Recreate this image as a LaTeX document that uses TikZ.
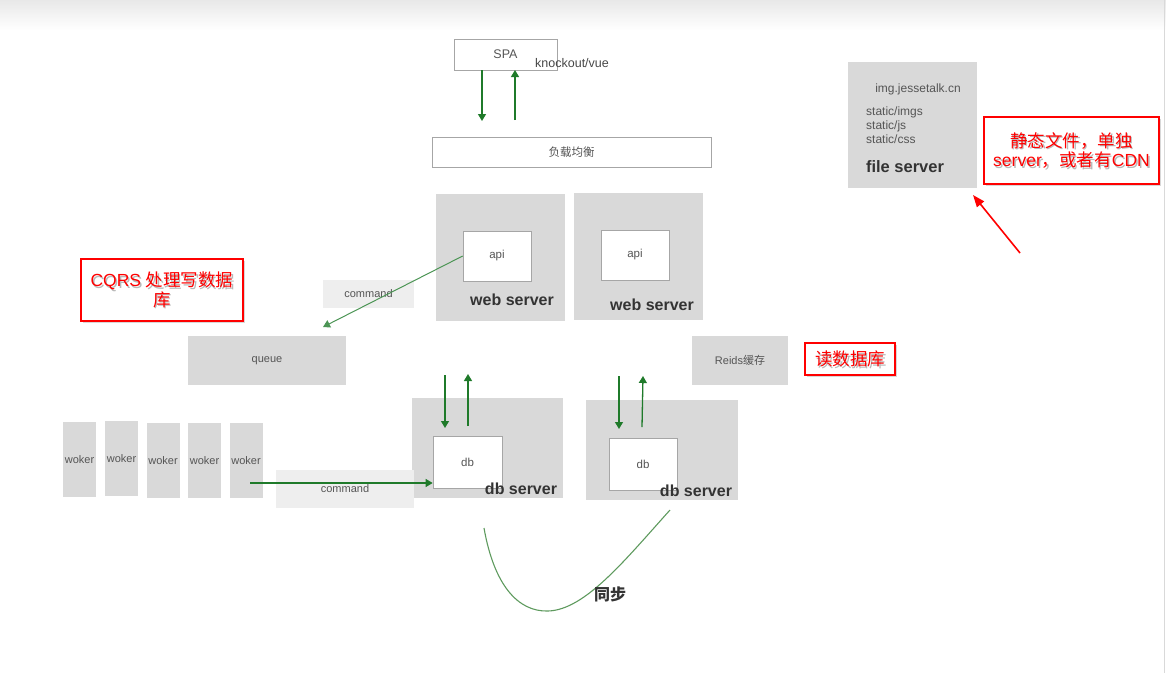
\documentclass[tikz,border=0pt]{standalone}
\usepackage{fontspec}
\setmainfont{Liberation Sans}
\newfontfamily\cjk{Noto Sans CJK SC}
\newcommand\cj[1]{{\cjk #1}}
\usetikzlibrary{arrows.meta,shadows}
\definecolor{boxgray}{HTML}{D9D9D9}
\definecolor{lightgray2}{HTML}{EEEEEE}
\definecolor{txtgray}{HTML}{555555}
\definecolor{darktxt}{HTML}{333333}
\definecolor{arrgreen}{HTML}{1F7A2A}
\definecolor{curvegreen}{HTML}{5E9A5E}
\definecolor{annred}{HTML}{FF0000}
\begin{document}
\begin{tikzpicture}[x=1pt,y=-1pt,
  gbox/.style={fill=boxgray,draw=none,inner sep=0pt},
  wbox/.style={fill=white,draw=gray!70,line width=0.7pt,inner sep=0pt,text=txtgray,font=\fontsize{11.5}{13}\selectfont},
  lbox/.style={fill=lightgray2,draw=none,inner sep=0pt,text=txtgray,font=\fontsize{11}{13}\selectfont},
  small/.style={text=txtgray,font=\fontsize{11}{13}\selectfont,inner sep=0pt},
  big/.style={text=darktxt,font=\fontsize{16}{18}\selectfont\bfseries,inner sep=0pt},
  garrow/.style={draw=arrgreen,line width=1.3pt,-{Triangle[length=7pt,width=8pt]}},
  annbox/.style={draw=annred,line width=1.8pt,fill=white,drop shadow={shadow xshift=2pt,shadow yshift=-2pt,fill=gray!60}},
  anntext/.style={text=annred,font=\fontsize{17.5}{19.5}\selectfont,align=center,inner sep=0pt},
  annshadow/.style={text=gray!55,font=\fontsize{17.5}{19.5}\selectfont,align=center,inner sep=0pt}
]
\useasboundingbox (0,0) rectangle (1166,673);
\shade[top color=gray!18,bottom color=white] (0,0) rectangle (1166,30);
\draw[gray!30,line width=1pt] (1164,0) -- (1164,673);

% SPA and load balancer
\node[wbox,minimum width=103,minimum height=31,font=\fontsize{12.5}{14}\selectfont] (spa) at (505.5,54.5) {SPA};
\node[small,anchor=west,text=darktxt!90,font=\fontsize{12.5}{14}\selectfont] (ko) at (535,63.5) {knockout/vue};
\node[wbox,minimum width=279,minimum height=30] (lb) at (571.5,152) {\cj{负载均衡}};
\coordinate (d1s) at (482,70); \coordinate (d1e) at (482,121);
\coordinate (u1s) at (515,120); \coordinate (u1e) at (515,70);
\draw[garrow] (d1s) -- (d1e);
\draw[garrow] (u1s) -- (u1e);

% web servers
\node[gbox,minimum width=129,minimum height=127] (web1) at (500,257.5) {};
\node[wbox,minimum width=68,minimum height=50] (api1) at (497,256) {api};
\node[big] (wl1) at (512,300) {web server};
\node[gbox,minimum width=129,minimum height=127] (web2) at (638,256.5) {};
\node[wbox,minimum width=68,minimum height=50] (api2) at (635,255) {api};
\node[big] (wl2) at (652,305) {web server};

% command & queue
\node[lbox,minimum width=91,minimum height=28] (cmd1) at (368.5,294) {command};
\node[gbox,minimum width=158,minimum height=49,text=txtgray,font=\fontsize{11}{13}\selectfont] (queue) at (267,360.5) {queue};
\coordinate (qin) at (323,327);
\draw[garrow,line width=1pt,draw=arrgreen!80] (api1.west) -- (qin);

% CQRS annotation
\node[annbox,minimum width=162,minimum height=62] (cqrs) at (162,290) {};
\node[annshadow] at (163.5,291.5) {CQRS \cj{处理写数据}\\\cj{库}};
\node[anntext] (cqrst) at (162,290) {CQRS \cj{处理写数据}\\\cj{库}};

% Redis & read annotation
\node[gbox,minimum width=96,minimum height=49,text=txtgray,font=\fontsize{11}{13}\selectfont] (redis) at (740,360.5) {Reids\cj{缓存}};
\node[annbox,minimum width=90,minimum height=32] (read) at (850,359) {};
\node[annshadow] at (851.5,360.5) {\cj{读数据库}};
\node[anntext] (readt) at (850,359) {\cj{读数据库}};

% db servers
\node[gbox,minimum width=151,minimum height=100] (db1) at (487.5,448) {};
\node[wbox,minimum width=69,minimum height=52] (dbi1) at (467.5,462) {db};
\node[big] (dl1) at (521,489) {db server};
\node[gbox,minimum width=152,minimum height=100] (db2) at (662,450) {};
\node[wbox,minimum width=68,minimum height=52] (dbi2) at (643,464) {db};
\node[big] (dl2) at (696,491) {db server};
\coordinate (d2s) at (445,375); \coordinate (d2e) at (445,428);
\coordinate (u2s) at (468,426); \coordinate (u2e) at (468,374);
\coordinate (d3s) at (619,376); \coordinate (d3e) at (619,429);
\coordinate (u3s) at (642,427); \coordinate (u3e) at (643,376);
\draw[garrow] (d2s) -- (d2e);
\draw[garrow] (u2s) -- (u2e);
\draw[garrow] (d3s) -- (d3e);
\draw[garrow] (u3s) -- (u3e);

% workers
\foreach \i/\x/\y in {1/79.5/459.5,2/121.5/458.5,3/163/460.5,4/204.5/460.5,5/246/460.5}{
  \node[gbox,minimum width=33,minimum height=75,text=txtgray,font=\fontsize{11}{13}\selectfont] (w\i) at (\x,\y) {woker};
}
\node[lbox,minimum width=138,minimum height=38] (cmd2) at (345,489) {command};
\coordinate (wcs) at (250,483);
\draw[garrow] (wcs) -- (dbi1.west |- wcs);

% sync curve
\coordinate (s1) at (484,528);
\coordinate (s2) at (670,510);
\draw[curvegreen,line width=1.1pt] (s1) .. controls (494,585) and (518,612) .. (548,611) .. controls (585,610) and (625,560) .. (s2);
\node[text=darktxt,font=\fontsize{16}{18}\selectfont\cjk\bfseries,inner sep=0pt] (sync) at (610,594) {同步};

% file server
\node[gbox,minimum width=129,minimum height=126] (fs) at (912.5,125) {};
\node[small,font=\fontsize{12}{14}\selectfont] (host) at (918,89) {img.jessetalk.cn};
\node[small,font=\fontsize{12}{14}\selectfont,anchor=north west,align=left] (paths) at (866,107) {static/imgs\\static/js\\static/css};
\node[big,font=\fontsize{16.5}{18}\selectfont\bfseries] (fsl) at (905,167) {file server};

% static annotation
\node[annbox,minimum width=175,minimum height=67] (stat) at (1071.5,150.5) {};
\node[annshadow] at (1073,152) {\cj{静态文件，单独}\\server\cj{，或者有}CDN};
\node[anntext] (statt) at (1071.5,150.5) {\cj{静态文件，单独}\\server\cj{，或者有}CDN};
\coordinate (rs) at (1020,253);
\draw[annred,line width=1.6pt,-{Triangle[length=12pt,width=9pt]}] (rs) -- (973,195);
\end{tikzpicture}
\end{document}
